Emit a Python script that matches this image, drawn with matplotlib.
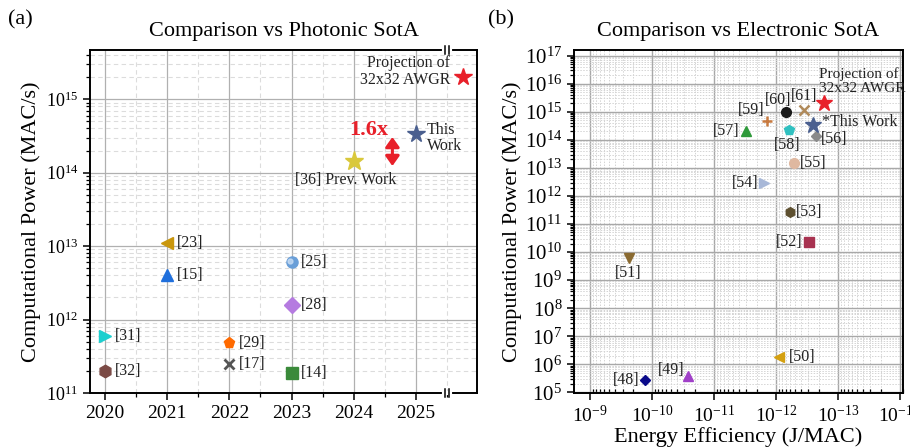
import matplotlib
matplotlib.use('Agg')
import matplotlib.pyplot as plt
import matplotlib.ticker as mticker
import matplotlib.transforms as mtransforms

plt.rcParams['font.family'] = ['Liberation Serif', 'DejaVu Serif']
plt.rcParams['mathtext.fontset'] = 'custom'
plt.rcParams['mathtext.rm'] = 'Liberation Serif'
plt.rcParams['mathtext.it'] = 'Liberation Serif:italic'
plt.rcParams['axes.unicode_minus'] = False

# ---- (a) photonic state of the art ----
left_refs = ['[32]', '[31]', '[23]', '[15]', '[29]', '[17]', '[25]', '[28]', '[14]']
left_years = [2020, 2020, 2021, 2021, 2022, 2022, 2023, 2023, 2023]
left_power = [2.0e11, 6.0e11, 1.1e13, 4.0e12, 4.8e11, 2.5e11, 6.0e12, 1.6e12, 1.85e11]
left_markers = ['h', '>', '<', '^', 'p', 'x', 'o', 'D', 's']
left_colors = ['#7b4a45', '#1ccfcf', '#c9960c', '#1f6fdc', '#ff6a00', '#555555',
               '#6a9fd8', '#b57be0', '#3a8a3a']

prev_year, prev_power = 2024, 1.45e14
this_year, this_power = 2025, 3.4e14
proj_year, proj_power = 2025.75, 2.0e15

# ---- (b) electronic state of the art ----
right_refs = ['[48]', '[49]', '[50]', '[51]', '[52]', '[53]', '[54]', '[55]', '[56]',
              '[57]', '[58]', '[59]', '[60]', '[61]']
right_eff = [1.29e-10, 2.6e-11, 8.9e-13, 2.4e-10, 2.9e-13, 5.9e-13, 1.55e-12, 5.1e-13,
             2.3e-13, 3.1e-12, 6.2e-13, 1.4e-12, 6.9e-13, 3.5e-13]
right_power = [2.7e5, 4.0e5, 1.9e6, 6.0e9, 2.3e10, 2.7e11, 2.9e12, 1.5e13, 1.4e14,
               2.0e14, 2.3e14, 4.8e14, 9.5e14, 1.2e15]
right_markers = ['D', '^', '<', 'v', 's', 'h', '>', 'o', 'D', '^', 'p', '+', 'o', 'x']
right_colors = ['#0a0a8a', '#a040c8', '#d4a010', '#8a6a30', '#a83250', '#5e5030',
                '#a8b8d8', '#dfb8a0', '#8a8a8a', '#2e9a3a', '#30c0c0', '#c87a40',
                '#1a1a1a', '#b08a5a']
# label offsets (points) and alignment
right_offsets = [(-4, 0), (-3, 4), (7, 0), (0, -5), (-5, 0), (4, 0), (-4, 0), (4, 0),
                 (4, -2), (-4, 0), (-1, -5), (-2, 8), (-6, 9), (0, 10)]
right_ha = ['right', 'right', 'left', 'center', 'right', 'left', 'right', 'left', 'left',
            'right', 'center', 'right', 'center', 'center']
right_va = ['center', 'center', 'center', 'top', 'center', 'center', 'center', 'center',
            'center', 'center', 'top', 'center', 'center', 'center']
right_this_eff, right_proj_eff = 2.5e-13, 1.7e-13

axis_break = 2025.5

fig = plt.figure(figsize=(9.1, 4.47), dpi=100)
ax1 = fig.add_axes([0.0989, 0.1208, 0.4253, 0.7673])
ax2 = fig.add_axes([0.6308, 0.1208, 0.3615, 0.7673])

lab_fs = 11.5

# ------------- panel (a) -------------
for yr, pw, m, c, r in zip(left_years, left_power, left_markers, left_colors, left_refs):
    if m == 'x':
        ax1.plot(yr, pw, marker=m, color=c, ms=7, mew=2.0, ls='none', zorder=4)
    else:
        ax1.plot(yr, pw, marker=m, color=c, ms=9 if m in '<>^h' else 8, ls='none',
                 mec=c, zorder=4)
    ax1.annotate(r, (yr, pw), xytext=(7, 0), textcoords='offset points',
                 ha='left', va='center', fontsize=lab_fs, color='#222222')
    if m == 'o':
        hl = mtransforms.offset_copy(ax1.transData, fig=fig, x=-1.2, y=1.2, units='points')
        ax1.plot(yr, pw, marker='o', color='#c8ddf4', ms=3.5, ls='none', alpha=0.8,
                 transform=hl, zorder=5)

ax1.plot(prev_year, prev_power, marker='*', color='#d9c83c', ms=14, ls='none', zorder=4)
ax1.plot(this_year, this_power, marker='*', color='#4a5f8f', ms=13, ls='none', zorder=4)
ax1.plot(proj_year, proj_power, marker='*', color='#e8202a', ms=13, ls='none',
         zorder=4, clip_on=False)
ax1.annotate('[36] Prev. Work', (prev_year, prev_power), xytext=(-6, -14),
             textcoords='offset points', ha='center', va='center', fontsize=lab_fs,
             color='#222222')
ax1.annotate('This\nWork', (this_year, this_power), xytext=(8, -3),
             textcoords='offset points', ha='left', va='center', fontsize=lab_fs,
             color='#222222', linespacing=1.0)
ax1.annotate('Projection of\n32x32 AWGR', (proj_year, proj_power), xytext=(-9, 4),
             textcoords='offset points', ha='right', va='center', fontsize=lab_fs,
             color='#222222', linespacing=1.05)

# 1.6x arrow between previous work and this work
arrow_x = 2024.62
ax1.annotate('', xy=(arrow_x, this_power * 0.9), xytext=(arrow_x, prev_power * 0.85),
             arrowprops=dict(arrowstyle='<|-|>,head_length=0.45,head_width=0.32',
                             color='#e8202a', lw=2.2, mutation_scale=13,
                             shrinkA=0, shrinkB=0))
ax1.text(2024.55, this_power * 1.12, '1.6x', color='#e8202a', fontsize=16,
         fontweight='bold', ha='right', va='center')

ax1.set_yscale('log')
ax1.set_xlim(2019.76, 2025.98)
ax1.set_ylim(1e11, 10 ** 15.67)
ax1.set_xticks([2020, 2021, 2022, 2023, 2024, 2025])
ax1.xaxis.set_minor_locator(mticker.FixedLocator([2020.5, 2021.5, 2022.5, 2023.5, 2024.5, 2025.5]))
ax1.yaxis.set_major_locator(mticker.LogLocator(base=10, numticks=20))
ax1.yaxis.set_minor_locator(mticker.LogLocator(base=10, subs=range(2, 10), numticks=100))
ax1.yaxis.set_minor_formatter(mticker.NullFormatter())
ax1.grid(True, which='major', color='#b0b0b0', lw=0.9, ls='-')
ax1.grid(True, which='minor', color='#dcdcdc', lw=0.8, ls=(0, (4, 3)))
ax1.set_axisbelow(True)
ax1.tick_params(axis='x', which='major', labelsize=14, length=5, width=1.1, direction='out')
ax1.tick_params(axis='y', which='major', labelsize=13, length=5, width=1.1, direction='out')
ax1.tick_params(which='minor', length=3, width=0.9, direction='out')
ax1.set_title('Comparison vs Photonic SotA', fontsize=16, pad=10)
ax1.set_ylabel('Computational Power (MAC/s)', fontsize=16, labelpad=3)
for sp in ax1.spines.values():
    sp.set_linewidth(1.4)

# axis break marks on top and bottom spines
bt = mtransforms.blended_transform_factory(ax1.transData, ax1.transAxes)
for yb in (0, 1):
    ax1.plot([axis_break - 0.045, axis_break + 0.045], [yb, yb], color='white', lw=3,
             transform=bt, clip_on=False, zorder=6)
    for dx in (-0.035, 0.035):
        ax1.plot([axis_break + dx, axis_break + dx], [yb - 0.013, yb + 0.013],
                 color='black', lw=1.1, transform=bt, clip_on=False, zorder=7)

fig.text(0.009, 0.955, '(a)', fontsize=16, ha='left', va='center')

# ------------- panel (b) -------------
for e, pw, m, c, r, off, ha, va in zip(right_eff, right_power, right_markers, right_colors,
                                       right_refs, right_offsets, right_ha, right_va):
    if m in 'x+':
        ax2.plot(e, pw, marker=m, color=c, ms=7, mew=1.8, ls='none', zorder=4)
    else:
        ax2.plot(e, pw, marker=m, color=c, ms=7 if m != 'D' else 5.5, ls='none', zorder=4)
    ax2.annotate(r, (e, pw), xytext=off, textcoords='offset points', ha=ha, va=va,
                 fontsize=lab_fs, color='#222222')

ax2.plot(right_this_eff, this_power, marker='*', color='#4a5f8f', ms=12, ls='none', zorder=4)
ax2.plot(right_proj_eff, proj_power, marker='*', color='#e8202a', ms=12, ls='none', zorder=4)
ax2.annotate('*This Work', (right_this_eff, this_power), xytext=(6, 2),
             textcoords='offset points', ha='left', va='center', fontsize=lab_fs,
             color='#222222')
ax2.annotate('Projection of\n32x32 AWGR', (right_proj_eff, proj_power), xytext=(-3, 16),
             textcoords='offset points', ha='left', va='center', fontsize=11,
             color='#222222', linespacing=1.05, annotation_clip=False)

ax2.set_xscale('log')
ax2.set_yscale('log')
ax2.set_xlim(10 ** -8.74, 10 ** -14.05)
ax2.set_ylim(10 ** 4.98, 10 ** 17.2)
ax2.xaxis.set_major_locator(mticker.LogLocator(base=10, numticks=20))
ax2.xaxis.set_minor_locator(mticker.LogLocator(base=10, subs=range(2, 10), numticks=100))
ax2.yaxis.set_major_locator(mticker.LogLocator(base=10, numticks=20))
ax2.yaxis.set_minor_locator(mticker.LogLocator(base=10, subs=range(2, 10), numticks=100))
ax2.xaxis.set_minor_formatter(mticker.NullFormatter())
ax2.yaxis.set_minor_formatter(mticker.NullFormatter())
ax2.grid(True, which='major', color='#a8a8a8', lw=1.0, ls='-')
ax2.grid(True, which='minor', color='#d4d4d4', lw=0.7, ls=(0, (1.5, 1.5)))
ax2.set_axisbelow(True)
ax2.tick_params(axis='x', which='major', labelsize=14, length=5, width=1.1, direction='out')
ax2.tick_params(axis='y', which='major', labelsize=15, length=5, width=1.1, direction='out')
ax2.tick_params(axis='x', which='minor', length=3, width=0.9, direction='in')
ax2.tick_params(axis='y', which='minor', length=3, width=0.9, direction='out')
ax2.set_title('Comparison vs Electronic SotA', fontsize=16, pad=10)
ax2.set_ylabel('Computational Power (MAC/s)', fontsize=16, labelpad=2)
ax2.set_xlabel('Energy Efficiency (J/MAC)', fontsize=16, labelpad=1)
for sp in ax2.spines.values():
    sp.set_linewidth(1.4)

fig.text(0.536, 0.955, '(b)', fontsize=16, ha='left', va='center')

fig.savefig('out.png', dpi=100)
